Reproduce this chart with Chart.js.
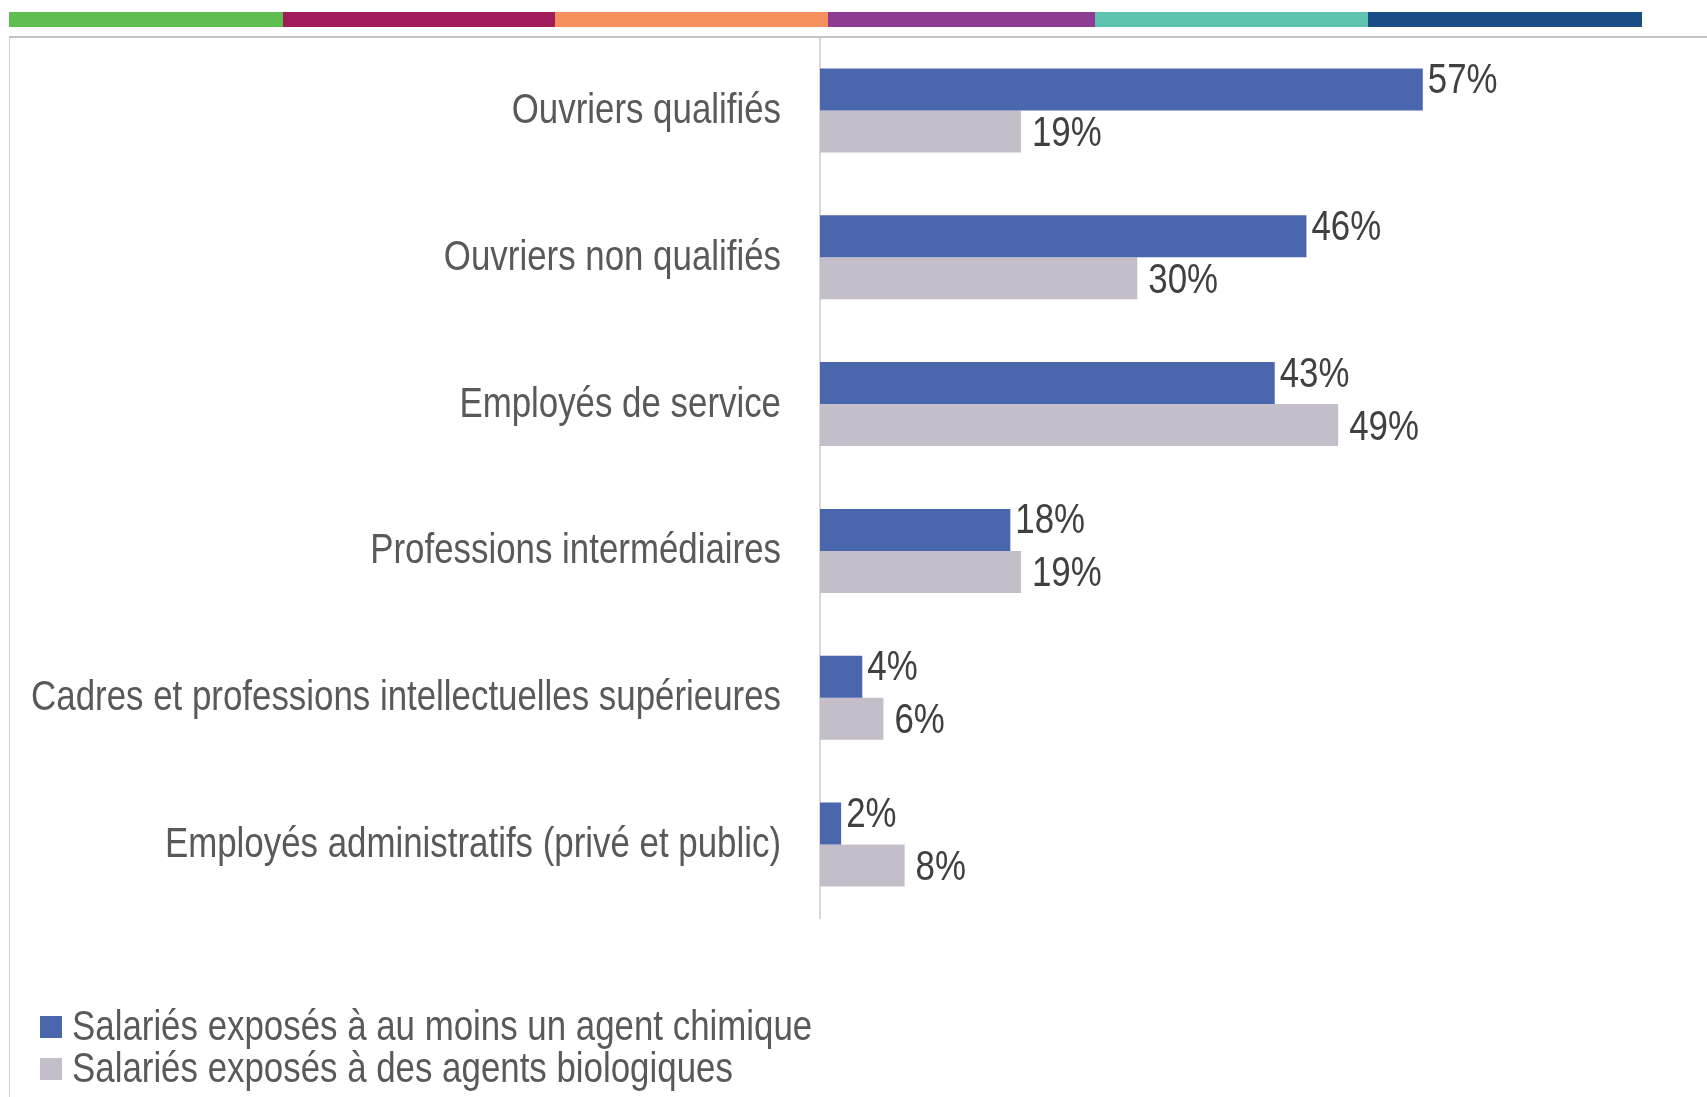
<!DOCTYPE html>
<html lang="fr">
<head>
<meta charset="utf-8">
<title>Salariés exposés</title>
<script src="https://cdn.jsdelivr.net/npm/chart.js@4.4.1/dist/chart.umd.min.js"></script>
<style>
    html, body { margin: 0; padding: 0; background: #fff; }
    body { width: 1707px; height: 1097px; position: relative; overflow: hidden; }
    #bandeau { position: absolute; left: 9px; top: 12px; height: 15px; width: 1633px; display: flex; }
    #bandeau div { height: 100%; }
    #cadre-haut { position: absolute; left: 9px; top: 36px; right: 0; height: 2px; background: #c3c3c3; }
    #cadre-gauche { position: absolute; left: 9px; top: 37px; bottom: 0; width: 1px; background: #d4d4d4; }
    #zone { position: absolute; left: 0; top: 0; width: 1707px; height: 1097px; }
</style>
</head>
<body>
<div id="bandeau">
    <div style="width:274px;background:#5ebe50"></div>
    <div style="width:272px;background:#a01c5a"></div>
    <div style="width:273px;background:#f58f5c"></div>
    <div style="width:267px;background:#8e3b94"></div>
    <div style="width:273px;background:#5ec3ae"></div>
    <div style="width:274px;background:#1a4c86"></div>
</div>
<div id="zone"><canvas id="myChart"></canvas></div>
<div id="cadre-haut"></div>
<div id="cadre-gauche"></div>
<script>
// Données (en %)
const categories = [
    'Ouvriers qualifiés',
    'Ouvriers non qualifiés',
    'Employés de service',
    'Professions intermédiaires',
    'Cadres et professions intellectuelles supérieures',
    'Employés administratifs (privé et public)'
];
const seriesNames = [
    'Salariés exposés à au moins un agent chimique',
    'Salariés exposés à des agents biologiques'
];
const chimique = [57, 46, 43, 18, 4, 2];
const biologique = [19, 30, 49, 19, 6, 8];

// pas de police "narrow" installée : Liberation Sans resserrée à l'écriture
const police = "'Liberation Sans', Arial, sans-serif";
const serrage = 0.83;

function texteEtroit(c, txt, x, y, align) {
    c.save();
    c.translate(x, y);
    c.scale(serrage, 1);
    c.textAlign = align;
    c.fillText(txt, 0, 0);
    c.restore();
}

document.addEventListener('DOMContentLoaded', function () {
    // Libellés des catégories à gauche de l'axe
    const libelles = {
        id: 'libelles',
        afterDraw(chart) {
            const c = chart.ctx;
            const axe = chart.scales.y;
            c.save();
            c.font = '42px ' + police;
            c.fillStyle = '#595959';
            c.textBaseline = 'middle';
            chart.data.labels.forEach(function (lab, i) {
                texteEtroit(c, lab, axe.right - 39, axe.getPixelForTick(i) + 1, 'right');
            });
            c.restore();
        }
    };

    // Étiquettes de valeurs au bout des barres
    const etiquettes = {
        id: 'etiquettes',
        afterDatasetsDraw(chart) {
            const c = chart.ctx;
            c.save();
            c.font = '42px ' + police;
            c.fillStyle = '#404040';
            c.textBaseline = 'middle';
            chart.data.datasets.forEach(function (ds, i) {
                const meta = chart.getDatasetMeta(i);
                const dx = i === 0 ? 5 : 11;
                const dy = i === 0 ? -8 : 3;
                meta.data.forEach(function (bar, j) {
                    texteEtroit(c, ds.data[j] + '%', bar.x + dx, bar.y + dy, 'left');
                });
            });
            c.restore();
        }
    };

    // Légende verticale en bas à gauche
    const legende = {
        id: 'legende',
        afterDraw(chart) {
            const c = chart.ctx;
            c.save();
            c.font = '42px ' + police;
            c.textBaseline = 'middle';
            chart.data.datasets.forEach(function (ds, i) {
                const y = 1027 + i * 42;
                c.fillStyle = ds.backgroundColor;
                c.fillRect(40, y - 11, 22, 22);
                c.fillStyle = '#595959';
                texteEtroit(c, ds.label, 72, y + 1, 'left');
            });
            c.restore();
        }
    };

    const ctx = document.getElementById('myChart').getContext('2d');
    new Chart(ctx, {
        type: 'bar',
        data: {
            labels: categories,
            datasets: [{
                label: seriesNames[0],
                data: chimique,
                backgroundColor: '#4a66ac'
            }, {
                label: seriesNames[1],
                data: biologique,
                backgroundColor: '#c4bdca'
            }]
        },
        options: {
            indexAxis: 'y',
            responsive: true,
            maintainAspectRatio: false,
            animation: false,
            layout: {
                padding: { top: 37, bottom: 179, left: 0, right: 41 }
            },
            datasets: {
                bar: { categoryPercentage: 0.572, barPercentage: 1.0 }
            },
            scales: {
                x: {
                    display: false,
                    min: 0,
                    max: 80
                },
                y: {
                    afterFit: function (scale) {
                        scale.width = 820;
                        scale.paddingTop = 0;
                        scale.paddingBottom = 0;
                    },
                    grid: { display: false, drawTicks: false },
                    border: { display: true, color: '#d9d9d9', width: 2 },
                    ticks: { display: false }
                }
            },
            plugins: {
                legend: { display: false },
                tooltip: { enabled: false }
            }
        },
        plugins: [libelles, etiquettes, legende]
    });
});
</script>
</body>
</html>
